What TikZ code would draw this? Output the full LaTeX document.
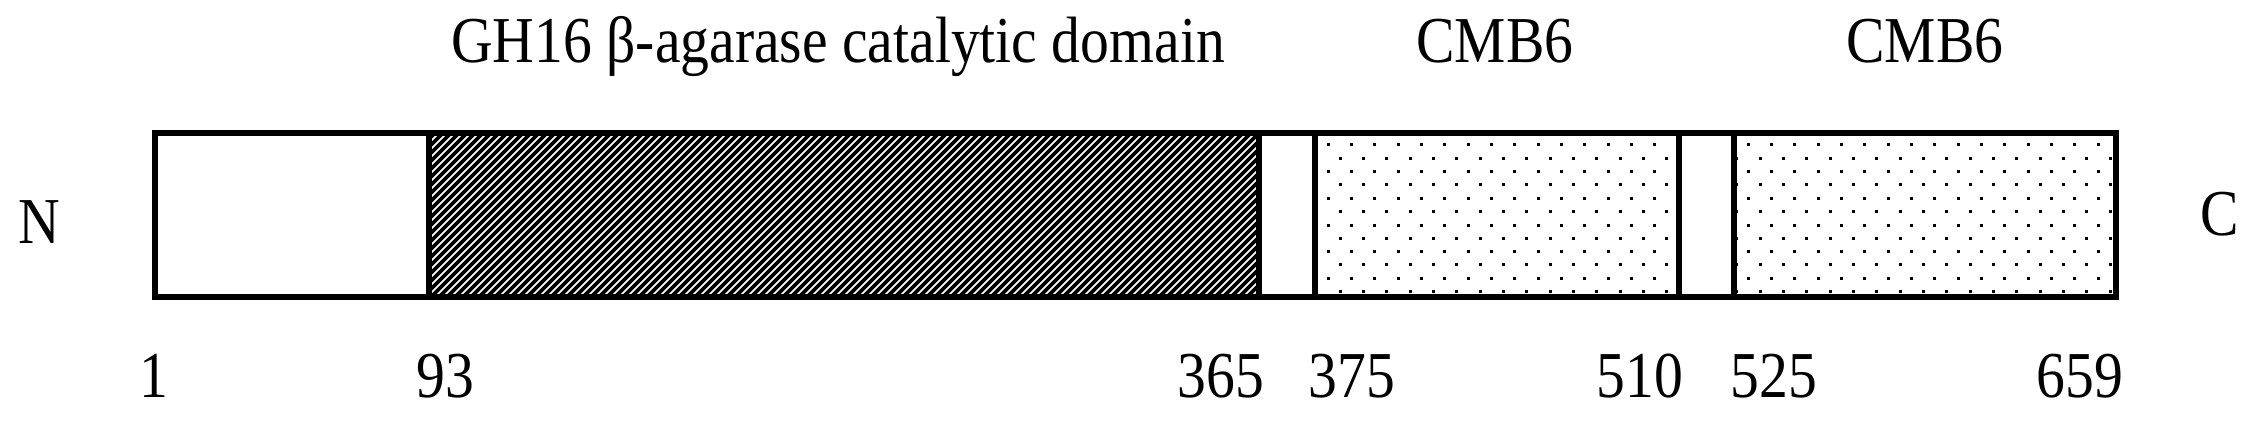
\documentclass[tikz,border=0pt]{standalone}
\usepackage{fontspec}
\setmainfont{Liberation Serif}
\begin{document}
\begin{tikzpicture}[x=1pt,y=-1pt,
  lbl/.style={font=\fontsize{65.5}{70}\selectfont, inner sep=0pt, anchor=base, xscale=0.88},
  border/.style={line width=6pt, line join=miter, line cap=rect},
  hatchline/.style={line width=3.7pt},
  dotfill/.style={fill=black}]
\useasboundingbox (0,0) rectangle (2253,422);
\def\yt{133.5}
\def\yb{296.5}
% hatched catalytic domain
\begin{scope}
  \clip (429,\yt) rectangle (1259,\yb);
  \foreach \c in {544,552,...,1580}
    \draw[hatchline] ({\c-120},120) -- ({\c-310},310);
\end{scope}
% dotted CMB6 domains
\begin{scope}
  \clip (1315,\yt) rectangle (1678.5,\yb) (1733.5,\yt) rectangle (2116,\yb);
  \foreach \j in {0,...,5} {
    \foreach \k in {-1,...,34} {
      \fill[dotfill] ({1328.3+23.333*\k-1.5},{145+26.667*\j-1.5}) rectangle ++(3,3);
      \fill[dotfill] ({1340+23.333*\k-1.5},{158.3+26.667*\j-1.5}) rectangle ++(3,3);
    }
  }
\end{scope}
% outline and dividers
\coordinate (tl) at (154.5,\yt);
\coordinate (br) at (2116,\yb);
\draw[border] (tl) rectangle (br);
\foreach \n/\x in {a/429,b/1259,c/1315,d/1678.5,e/1733.5} {
  \coordinate (\n top) at (\x,\yt);
  \coordinate (\n bot) at (\x,\yb);
  \draw[border] (\n top) -- (\n bot);
}
% labels
\node[lbl] (N) at (39,243) {N};
\node[lbl] (C) at (2220,236) {C};
\node[lbl] (title) at (838,63) {GH16 β-agarase catalytic domain};
\node[lbl] (cmb1) at (1495,63) {CMB6};
\node[lbl] (cmb2) at (1925,63) {CMB6};
\node[lbl] (n1) at (154,397) {1};
\node[lbl] (n93) at (445,397) {93};
\node[lbl] (n365) at (1221,397) {365};
\node[lbl] (n375) at (1352,397) {375};
\node[lbl] (n510) at (1640,397) {510};
\node[lbl] (n525) at (1774,397) {525};
\node[lbl] (n659) at (2080,397) {659};
\end{tikzpicture}
\end{document}
